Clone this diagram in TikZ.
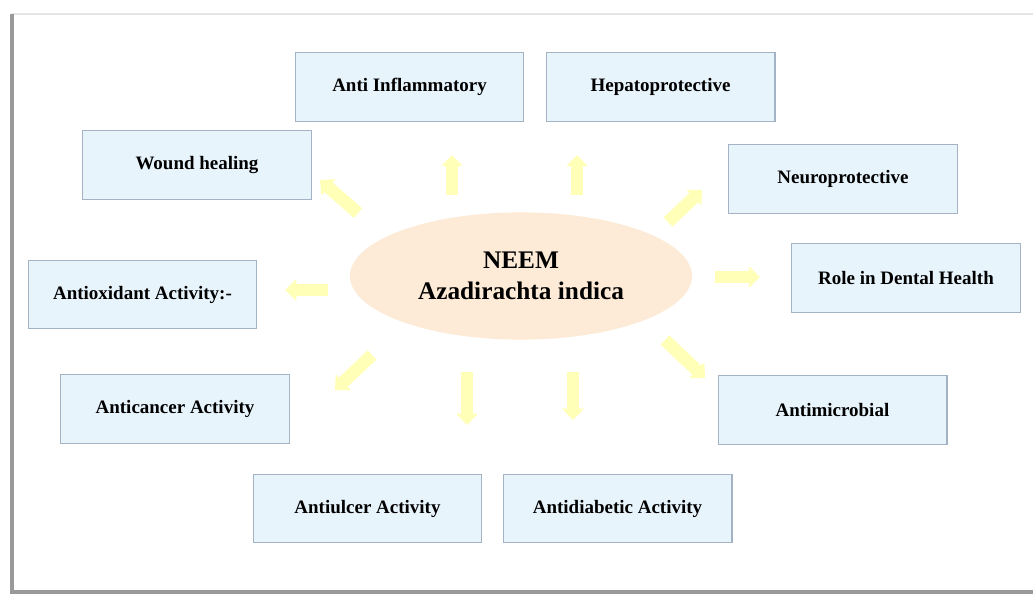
\documentclass[tikz,border=0pt]{standalone}
\usepackage{fontspec}
\setmainfont{Liberation Serif}
\usetikzlibrary{arrows.meta,shapes.geometric}
\definecolor{boxfill}{HTML}{E8F4FC}
\definecolor{boxline}{HTML}{A3B3C3}
\definecolor{neemfill}{HTML}{FDEBD7}
\definecolor{rayfill}{HTML}{FFFFB8}

\begin{document}
\begin{tikzpicture}[x=0.025cm, y=-0.025cm,
  act/.style={draw=boxline, fill=boxfill, line width=0.8pt, minimum width=5.72cm,
    minimum height=1.72cm, inner sep=0pt, font=\fontsize{13.5}{16}\selectfont\bfseries},
  ray/.style={draw=rayfill, line width=9pt, -{Triangle[width=15pt,length=8pt]}}]
\useasboundingbox (0,0) rectangle (1033,596);
\fill[white] (0,0) rectangle (1033,596);
\draw[gray!20, line width=1pt] (12,14) -- (1033,14);
\draw[gray!80, line width=2.5pt] (12,14) -- (12,592) -- (1033,592);

\node[ellipse, fill=neemfill, minimum width=8.55cm, minimum height=3.18cm, align=center,
  font=\fontsize{18}{22}\selectfont\bfseries] (neem) at (521,276) {NEEM\\Azadirachta indica};

\node[act] (inflam) at (409.5,87) {Anti Inflammatory};
\node[act] (hepato) at (660.5,87) {Hepatoprotective};
\node[act] (wound) at (197,165) {Wound healing};
\node[act] (neuro) at (843,179) {Neuroprotective};
\node[act] (dental) at (906,278) {Role in Dental Health};
\node[act] (antiox) at (142.5,294.5) {Antioxidant Activity:-};
\node[act] (cancer) at (175,409) {Anticancer Activity};
\node[act] (microb) at (832.5,410) {Antimicrobial};
\node[act] (ulcer) at (367.5,508.5) {Antiulcer Activity};
\node[act] (diabet) at (617.5,508.5) {Antidiabetic Activity};

\foreach \n/\xa/\ya/\xb/\yb in {inflam/452/195/452/155, hepato/577/195/577/155,
  wound/358/213/320/180, neuro/668/222/702/190, dental/715/277/760/277,
  antiox/328/290/285/290, cancer/372/355/335/390, microb/665/340/705/378,
  ulcer/467/372/467/425, diabet/573/372/573/420} {
\coordinate (\n-a) at (\xa,\ya);
\coordinate (\n-b) at (\xb,\yb);
\draw[ray] (\n-a) -- (\n-b);
}
\end{tikzpicture}
\end{document}
